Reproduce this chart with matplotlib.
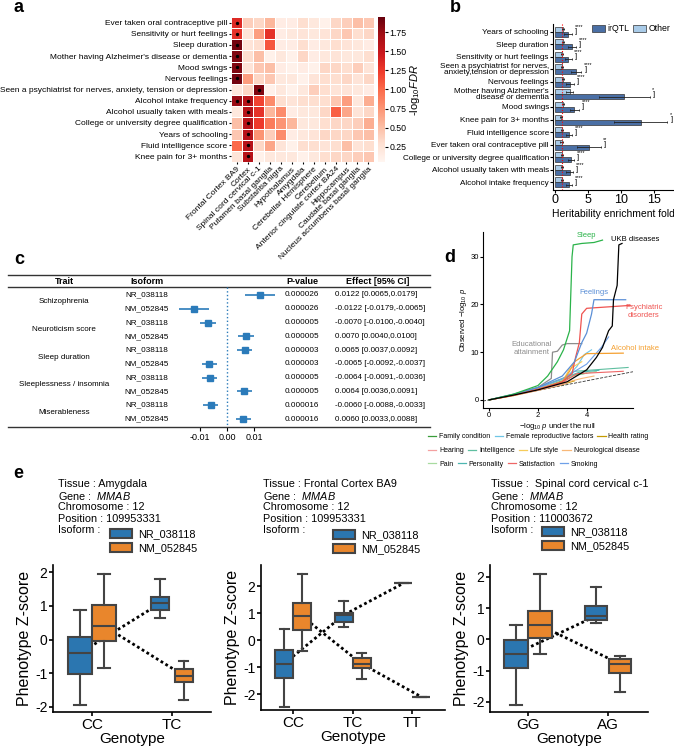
import numpy as np
import matplotlib.pyplot as plt
from matplotlib.patches import Patch
from matplotlib.lines import Line2D

plt.rcParams['font.family'] = ['Liberation Sans', 'DejaVu Sans']
plt.rcParams['mathtext.fontset'] = 'custom'
plt.rcParams['mathtext.rm'] = 'Liberation Sans'
plt.rcParams['mathtext.it'] = 'Liberation Sans:italic'
plt.rcParams['axes.linewidth'] = 0.8

# ---- panel a : -log10 FDR heatmap
a_traits = ["Ever taken oral contraceptive pill", "Sensitivity or hurt feelings", "Sleep duration",
            "Mother having Alzheimer's disease or dementia", "Mood swings", "Nervous feelings",
            "Seen a psychiatrist for nerves, anxiety, tension or depression", "Alcohol intake frequency",
            "Alcohol usually taken with meals", "College or university degree qualification",
            "Years of schooling", "Fluid intelligence score", "Knee pain for 3+ months"]
a_tissues = ["Frontal Cortex BA9", "Cortex", "Spinal cord cervical c-1", "Putamen basal ganglia",
             "Substantia nigra", "Hypothalamus", "Amygdala", "Cerebellar Hemisphere", "Cerebellum",
             "Anterior cingulate cortex BA24", "Hippocampus", "Caudate basal ganglia",
             "Nucleus accumbens basal ganglia"]
a_fdr = [
    [1.35, 0.40, 0.35, 0.55, 0.15, 0.15, 0.30, 0.20, 0.10, 0.35, 0.40, 0.50, 0.45],
    [1.30, 0.25, 0.70, 1.30, 0.15, 0.20, 0.25, 0.20, 0.25, 0.35, 0.45, 0.30, 0.35],
    [1.90, 0.25, 0.30, 1.10, 0.15, 0.15, 0.30, 0.15, 0.20, 0.30, 0.25, 0.20, 0.15],
    [1.85, 0.30, 0.50, 0.10, 0.20, 0.10, 0.35, 0.15, 0.20, 0.25, 0.20, 0.20, 0.30],
    [1.85, 0.25, 0.45, 0.50, 0.15, 0.10, 0.15, 0.10, 0.35, 0.35, 0.30, 0.40, 0.25],
    [1.90, 0.70, 0.35, 0.45, 0.20, 0.20, 0.10, 0.25, 0.30, 0.30, 0.35, 0.25, 0.35],
    [0.20, 0.35, 1.85, 0.10, 0.20, 0.10, 0.20, 0.40, 0.30, 0.25, 0.25, 0.20, 0.15],
    [1.75, 1.60, 1.20, 0.80, 0.30, 0.25, 0.30, 0.30, 0.30, 0.45, 0.70, 0.20, 0.60],
    [0.20, 1.60, 1.30, 0.55, 0.80, 0.15, 0.20, 0.20, 0.35, 1.05, 0.65, 0.25, 0.35],
    [0.50, 1.60, 1.25, 0.90, 0.75, 0.55, 0.20, 0.20, 0.30, 0.35, 0.35, 0.40, 0.60],
    [0.45, 1.60, 0.75, 0.40, 0.80, 0.15, 0.20, 0.25, 0.35, 0.35, 0.35, 0.45, 0.50],
    [1.00, 1.60, 0.35, 0.65, 0.25, 0.10, 0.30, 0.30, 0.25, 0.30, 0.50, 0.25, 0.30],
    [0.25, 1.60, 0.10, 0.20, 0.20, 0.20, 0.10, 0.20, 0.30, 0.35, 0.35, 0.40, 0.45],
]
a_sig_rows = [0, 1, 2, 3, 4, 5, 7, 7, 8, 9, 10, 11, 12, 6]
a_sig_cols = [0, 0, 0, 0, 0, 0, 0, 1, 1, 1, 1, 1, 1, 2]

# ---- panel b : heritability enrichment
b_traits = ["Years of schooling", "Sleep duration", "Sensitivity or hurt feelings",
            "Seen a psychiatrist for nerves,\nanxiety,tension or depression", "Nervous feelings",
            "Mother having Alzheimer's\ndisease or dementia", "Mood swings", "Knee pain for 3+ months",
            "Fluid intelligence score", "Ever taken oral contraceptive pill",
            "College or university degree qualification", "Alcohol usually taken with meals",
            "Alcohol intake frequency"]
b_irqtl = [2.0, 2.6, 2.0, 3.2, 2.3, 10.5, 2.9, 13.0, 2.1, 5.1, 2.4, 2.2, 2.1]
b_irqtl_err = [0.6, 0.6, 0.5, 0.8, 0.6, 3.8, 0.7, 4.0, 0.5, 1.8, 0.5, 0.5, 0.5]
b_other = [1.2, 1.2, 1.0, 1.1, 1.2, 2.2, 1.2, 0.9, 1.1, 1.0, 1.1, 1.1, 1.1]
b_other_err = [0.15, 0.15, 0.15, 0.15, 0.15, 0.6, 0.15, 0.2, 0.15, 0.2, 0.15, 0.15, 0.15]
b_stars = ["****", "****", "****", "****", "****", "*", "****", "*", "****", "**", "****", "****", "****"]

# ---- panel c : forest table
c_traits = ["Schizophrenia", "Neuroticism score", "Sleep duration", "Sleeplessness / insomnia", "Miserableness"]
c_isoforms = ["NR_038118", "NM_052845"] * 5
c_pvalue = ["0.000026", "0.000026", "0.000005", "0.000005", "0.000003",
            "0.000003", "0.000005", "0.000005", "0.000016", "0.000016"]
c_effect = [0.0122, -0.0122, -0.0070, 0.0070, 0.0065, -0.0065, -0.0064, 0.0064, -0.0060, 0.0060]
c_lo = [0.0065, -0.0179, -0.0100, 0.0040, 0.0037, -0.0092, -0.0091, 0.0036, -0.0088, 0.0033]
c_hi = [0.0179, -0.0065, -0.0040, 0.0100, 0.0092, -0.0037, -0.0036, 0.0091, -0.0033, 0.0088]

# ---- panel d : QQ curves (x, y)
d_sleep = [(0, 0), (1, 1.2), (2, 3.0), (2.4, 5.0), (2.8, 8.0), (3.05, 10.5), (3.3, 14.5), (3.4, 30), (3.45, 32.5), (3.8, 32.8), (4.3, 33.0), (4.65, 33.5)]
d_ukb = [(0, 0), (1, 1.0), (2, 2.1), (3.2, 3.8), (4.0, 6.3), (4.4, 8.9), (4.65, 11), (4.9, 14.5), (5.05, 15.5), (5.1, 21), (5.25, 24), (5.32, 32.5), (5.45, 32.8)]
d_feelings = [(0, 0), (1, 1.2), (2, 2.6), (3, 5.0), (3.5, 8), (3.8, 12), (4.0, 14), (4.2, 18), (4.3, 21), (5.6, 21)]
d_psych = [(0, 0), (1, 1.0), (2, 2.2), (3, 3.8), (3.4, 5.5), (3.55, 9), (3.7, 12), (3.8, 18), (4.0, 19.2), (5.75, 19.8)]
d_edu = [(0, 0), (1, 1.1), (2, 2.6), (2.55, 4.5), (2.6, 10), (2.8, 10.2), (3.0, 11.5), (3.2, 11.8), (3.8, 11.8)]
d_alcohol = [(0, 0), (1, 1.0), (2, 2.2), (3, 3.8), (3.3, 6), (3.5, 8), (4.0, 9.7), (5.5, 9.8)]
d_family = [(0, 0), (1, 1.1), (2, 2.4), (3, 4.0), (3.5, 5.2), (4.0, 5.6)]
d_female = [(0, 0), (1, 1.0), (2, 2.3), (3, 3.8), (3.6, 7), (3.9, 9.5), (4.2, 10.5)]
d_health = [(0, 0), (1, 0.9), (2, 2.0), (3, 3.2), (3.5, 4.0)]
d_hearing = [(0, 0), (1, 0.9), (2, 2.0), (2.8, 3.0), (3.2, 3.6)]
d_intel = [(0, 0), (1, 1.1), (2, 2.5), (3, 4.3), (3.5, 6.0), (5.7, 6.8)]
d_life = [(0, 0), (1, 1.0), (2, 2.3), (3, 3.8), (3.3, 6.5), (3.8, 8.0)]
d_neuro = [(0, 0), (1, 0.9), (2, 2.1), (3, 3.5), (3.8, 4.5), (4.3, 5.0)]
d_pain = [(0, 0), (1, 1.0), (2, 2.4), (3, 4.2), (3.4, 5.0), (4.4, 6.0)]
d_person = [(0, 0), (1, 1.1), (2, 2.6), (3, 4.5), (3.7, 5.8), (4.5, 6.2)]
d_satis = [(0, 0), (1, 1.0), (2, 2.2), (3, 3.6), (3.6, 5.5), (5.5, 6.0)]
d_smoking = [(0, 0), (1, 1.1), (2, 2.5), (3, 4.4), (4.0, 7.5), (4.6, 11), (4.9, 13.2)]

# ---- panel e : box stats [whislo, q1, med, q3, whishi]
e1_geno = ["CC", "TC"]
e1_blue = [[-1.93, -1.02, -0.40, 0.07, 0.87], [0.65, 0.88, 1.07, 1.27, 1.80]]
e1_orange = [[-0.85, -0.05, 0.40, 1.03, 1.93], [-1.78, -1.27, -1.07, -0.87, -0.65]]
e2_geno = ["CC", "TC", "TT"]
e2_blue = [[-2.47, -1.40, -0.87, -0.38, 0.42], [0.48, 0.67, 0.93, 1.02, 1.43], [2.1, 2.1, 2.1, 2.1, 2.1]]
e2_orange = [[-0.42, 0.38, 0.88, 1.38, 2.45], [-1.43, -1.03, -0.88, -0.67, -0.48], [-2.1, -2.1, -2.1, -2.1, -2.1]]
e3_geno = ["GG", "AG"]
e3_blue = [[-2.10, -0.90, -0.45, -0.03, 0.45], [0.52, 0.63, 0.75, 1.08, 1.67]]
e3_orange = [[-0.45, 0.05, 0.45, 0.90, 2.10], [-1.67, -1.08, -0.78, -0.63, -0.52]]
e_info = [["Tissue : Amygdala", "Gene :  $\\it{MMAB}$", "Chromosome : 12", "Position : 109953331", "Isoform :"],
          ["Tissue : Frontal Cortex BA9", "Gene :  $\\it{MMAB}$", "Chromosome : 12", "Position : 109953331", "Isoform :"],
          ["Tissue :  Spinal cord cervical c-1", "Gene :  $\\it{MMAB}$", "Chromosome : 12", "Position : 110003672", "Isoform :"]]
isoforms = ["NR_038118", "NM_052845"]

W, H = 674, 746
fig = plt.figure(figsize=(W / 100, H / 100), dpi=100)


def rect(l, t, r, b):
    return [l / W, 1 - b / H, (r - l) / W, (b - t) / H]


def ftext(x, y, s, **kw):
    fig.text(x / W, 1 - y / H, s, **kw)


for lab, x, y in [("a", 19, 8), ("b", 455, 8), ("c", 19, 259), ("d", 450, 258), ("e", 18, 474)]:
    ftext(x, y, lab, fontsize=13, fontweight="bold", ha="center", va="center")

# ================= a
ax = fig.add_axes(rect(231, 17, 374, 162))
mesh = ax.pcolormesh(np.array(a_fdr), cmap="Reds", vmin=0.05, vmax=1.95, edgecolors="white", linewidth=0.6)
ax.scatter(np.array(a_sig_cols) + 0.5, np.array(a_sig_rows) + 0.5, s=2, color="k", zorder=3)
ax.set_xlim(0, 13)
ax.set_ylim(13, 0)
ax.set_xticks(np.arange(13) + 0.5)
ax.set_xticklabels(a_tissues, rotation=45, ha="right", rotation_mode="anchor", fontsize=6)
ax.set_yticks(np.arange(13) + 0.5)
ax.set_yticklabels(a_traits, fontsize=6)
ax.tick_params(length=1.5, width=0.8, pad=1)
for s in ax.spines.values():
    s.set_visible(False)
cax = fig.add_axes(rect(378, 17, 385, 162))
cb = fig.colorbar(mesh, cax=cax, ticks=[0.25, 0.5, 0.75, 1.0, 1.25, 1.5, 1.75])
cb.outline.set_visible(False)
cax.tick_params(labelsize=6.3, length=2, width=0.8, pad=1)
cb.set_label("-log$_{10}$$\\it{FDR}$", fontsize=8, labelpad=1)

# ================= b
ax = fig.add_axes(rect(553, 24, 674, 190))
y = np.arange(len(b_traits))
ekw = dict(elinewidth=0.6, capsize=1, capthick=0.6, ecolor="#222")
ax.barh(y - 0.2, b_other, height=0.4, color="#a9cbe8", edgecolor="#333", linewidth=0.5,
        xerr=b_other_err, error_kw=ekw, label="Other")
ax.barh(y + 0.2, b_irqtl, height=0.4, color="#4a6fa5", edgecolor="#333", linewidth=0.5,
        xerr=b_irqtl_err, error_kw=ekw, label="irQTL")
ax.axvline(1, color="red", ls=":", lw=0.8)
for i in range(len(b_traits)):
    hi = max(b_irqtl[i] + b_irqtl_err[i], b_other[i] + b_other_err[i])
    ax.text(hi + 0.5, y[i], "]", fontsize=5.5, va="center", ha="left")
    ax.text(hi + 0.4, y[i] - 0.4, b_stars[i], fontsize=4, va="center", ha="left")
ax.set_xlim(-0.3, 18)
ax.set_ylim(12.6, -0.6)
ax.set_xticks([0, 5, 10, 15])
ax.set_yticks(y)
ax.set_yticklabels(b_traits, fontsize=5.9, linespacing=0.8)
ax.tick_params(axis="x", labelsize=9, length=2, pad=1)
ax.tick_params(axis="y", length=2, pad=1)
ax.spines[["top", "right"]].set_visible(False)
ax.set_xlabel("Heritability enrichment fold", fontsize=7.5, labelpad=2)
h, l = ax.get_legend_handles_labels()
ax.legend(h[::-1], l[::-1], loc="upper right", bbox_to_anchor=(1.0, 1.02), ncol=2, fontsize=6.3,
          frameon=False, handlelength=1.5, handleheight=0.9, columnspacing=0.4, handletextpad=0.3, borderaxespad=0)

# ================= c
c_left, c_right, c_top, c_bot, zero_px, step = 8, 430, 270, 427, 227, 13.78
ax = fig.add_axes(rect(c_left, c_top, c_right, c_bot))
ax.set_xlim(-(zero_px - c_left) / 2700, (c_right - zero_px) / 2700)
ybot, ytop = (c_bot - 295) / step, (c_top - 295) / step
ax.set_ylim(ybot, ytop)
for s in ax.spines.values():
    s.set_visible(False)
ax.set_yticks([])
ax.set_xticks([-0.01, 0, 0.01])
ax.set_xticklabels(["-0.01", "0.00", "0.01"], fontsize=6.5)
ax.tick_params(axis="x", length=3, width=0.8, pad=1)
for yy in [(275 - 295) / step, (287 - 295) / step, ybot]:
    ax.axhline(yy, color="#333", lw=1, clip_on=False)
ax.plot([0, 0], [(287 - 295) / step, ybot], ls=":", color="#2b7bba", lw=1)
rows = np.arange(len(c_effect))
eff = np.array(c_effect)
ax.errorbar(eff, rows, xerr=[eff - np.array(c_lo), np.array(c_hi) - eff], fmt="s", ms=4,
            color="#2b7bba", lw=1.2, capsize=0)
tr = ax.get_yaxis_transform()


def xf(px):
    return (px - c_left) / (c_right - c_left)


hy = (282 - 295) / step
for txt, px in [("Trait", 64), ("Isoform", 147), ("P-value", 302), ("Effect [95% CI]", 378)]:
    ax.text(xf(px), hy, txt, transform=tr, ha="center", va="center", fontsize=6.5, fontweight="bold")
for i, t in enumerate(c_traits):
    ax.text(xf(64), 2 * i + 0.5, t, transform=tr, ha="center", va="center", fontsize=5.8)
for i in rows:
    ax.text(xf(147), i, c_isoforms[i], transform=tr, ha="center", va="center", fontsize=5.9)
    ax.text(xf(302), i, c_pvalue[i], transform=tr, ha="center", va="center", fontsize=5.9)
    ax.text(xf(335), i, f"{c_effect[i]:.4f} [{c_lo[i]:.4f},{c_hi[i]:.4f}]", transform=tr,
            ha="left", va="center", fontsize=5.8)

# ================= d
ax = fig.add_axes(rect(483, 232, 633, 408))
ax.axline((0, 0), slope=1, ls="--", color="#333", lw=0.6)
others = [(d_family, "#3a9d3a", "Family condition"), (d_female, "#6ec6e6", "Female reproductive factors"),
          (d_health, "#c49a00", "Health rating"), (d_hearing, "#f4a0a0", "Hearing"),
          (d_intel, "#5fbfa0", "Intelligence"), (d_life, "#f6cc5a", "Life style"),
          (d_neuro, "#f8b878", "Neurological disease"), (d_pain, "#a8dba0", "Pain"),
          (d_person, "#4db6b0", "Personality"), (d_satis, "#ee6666", "Satisfaction"),
          (d_smoking, "#6fa0e8", "Smoking")]
for pts, col, name in others:
    xs, ys = zip(*pts)
    ax.plot(xs, ys, color=col, lw=0.8)
for pts, col in [(d_edu, "#8c8c8c"), (d_alcohol, "#f5a030"), (d_psych, "#ef5350"),
                 (d_feelings, "#5b8fd6"), (d_sleep, "#2bb34a"), (d_ukb, "black")]:
    xs, ys = zip(*pts)
    ax.plot(xs, ys, color=col, lw=0.9)
for s, x, yy, col in [("Sleep", 4.0, 34.5, "#2bb34a"), ("Feelings", 4.3, 22.6, "#5b8fd6"),
                      ("Psychiatric\ndisorders", 6.35, 18.5, "#ef5350"),
                      ("Educational\nattainment", 1.74, 10.8, "#8c8c8c"),
                      ("Alcohol intake", 6.0, 10.8, "#f5a030"), ("UKB diseases", 6.0, 33.7, "black")]:
    ax.text(x, yy, s, color=col, fontsize=5.5, ha="center", va="center", clip_on=False, linespacing=1.1)
ax.set_xlim(-0.25, 5.9)
ax.set_ylim(-1.7, 35.2)
ax.set_xticks([0, 2, 4])
ax.set_yticks([0, 10, 20, 30])
ax.tick_params(labelsize=5.5, length=2, pad=1)
ax.spines[["top", "right"]].set_visible(False)
ax.set_xlabel("$-\\log_{10}\\,p$ under the null", fontsize=5.5, labelpad=1)
ax.set_ylabel("Observed $-\\log_{10}\\,p$", fontsize=5.5, labelpad=1)
for rowi, (i0, i1) in enumerate([(0, 3), (3, 7), (7, 11)]):
    hs = [Line2D([], [], color=c, lw=0.9) for _, c, _ in others[i0:i1]]
    fig.legend(hs, [n for _, _, n in others[i0:i1]], loc="center left",
               bbox_to_anchor=(428 / W, 1 - (437 + 13.5 * rowi) / H), ncol=i1 - i0, fontsize=5,
               frameon=False, handlelength=1.2, columnspacing=0.6, handletextpad=0.4,
               borderaxespad=0, borderpad=0)

# ================= e
BLUE, ORANGE, EDGE = "#2b76b0", "#e9862c", "#444444"


def draw_e(ax, genos, blue, orange, widths):
    pos = np.arange(len(genos))
    for stats, off, col in [(blue, -0.15, BLUE), (orange, 0.15, ORANGE)]:
        bx = [dict(whislo=s[0], q1=s[1], med=s[2], q3=s[3], whishi=s[4]) for s in stats]
        ax.bxp(bx, positions=pos + off, widths=widths, capwidths=[w * 0.5 for w in widths],
               patch_artist=True, showfliers=False, manage_ticks=False, zorder=3,
               boxprops=dict(facecolor=col, edgecolor=EDGE, lw=1.5),
               medianprops=dict(color=EDGE, lw=1.5), whiskerprops=dict(color=EDGE, lw=1.5),
               capprops=dict(color=EDGE, lw=1.5))
        ax.plot(pos + off, [s[2] for s in stats], ls=(0, (1, 1)), color="k", lw=2, zorder=2)
    ax.set_xticks(pos)
    ax.set_xticklabels(genos)
    ax.set_yticks([-2, -1, 0, 1, 2])
    ax.set_yticklabels(["-2", "-1", "0", "1", "2"])
    ax.tick_params(axis="x", labelsize=11, length=3, width=1.2, pad=1)
    ax.tick_params(axis="y", labelsize=10, length=3, width=1.2, pad=1)
    ax.spines[["top", "right"]].set_visible(False)
    ax.spines[["left", "bottom"]].set_linewidth(1.2)
    ax.set_xlabel("Genotype", fontsize=11, labelpad=0)
    ax.set_ylabel("Phenotype Z-score", fontsize=11.5, labelpad=2)


e_axes = [(rect(53, 565, 211, 712), (-0.49, 1.49), (-2.15, 2.21), e1_geno, e1_blue, e1_orange, [0.3, 0.23]),
          (rect(261, 565, 445, 710), (-0.54, 2.55), (-2.59, 2.78), e2_geno, e2_blue, e2_orange, [0.3, 0.3, 0.3]),
          (rect(490, 565, 648, 712), (-0.475, 1.5), (-2.32, 2.38), e3_geno, e3_blue, e3_orange, [0.3, 0.27])]
for r, xl, yl, g, bl, orn, wd in e_axes:
    ax = fig.add_axes(r)
    draw_e(ax, g, bl, orn, wd)
    ax.set_xlim(*xl)
    ax.set_ylim(*yl)

for k, (tx, lx, ly) in enumerate([(58, 110, 529), (263, 333, 530), (491, 542, 527)]):
    for j, line in enumerate(e_info[k]):
        ftext(tx, 484 + 11.6 * j, line, fontsize=7.8, va="center", ha="left")
    hs = [Patch(facecolor=c, edgecolor=EDGE, lw=1.5) for c in (BLUE, ORANGE)]
    fig.legend(hs, isoforms, loc="upper left", bbox_to_anchor=(lx / W, 1 - ly / H), fontsize=7.8,
               frameon=False, handlelength=2.0, handleheight=0.9, labelspacing=0.35,
               handletextpad=0.6, borderaxespad=0, borderpad=0)

fig.savefig("out.png", dpi=100)
